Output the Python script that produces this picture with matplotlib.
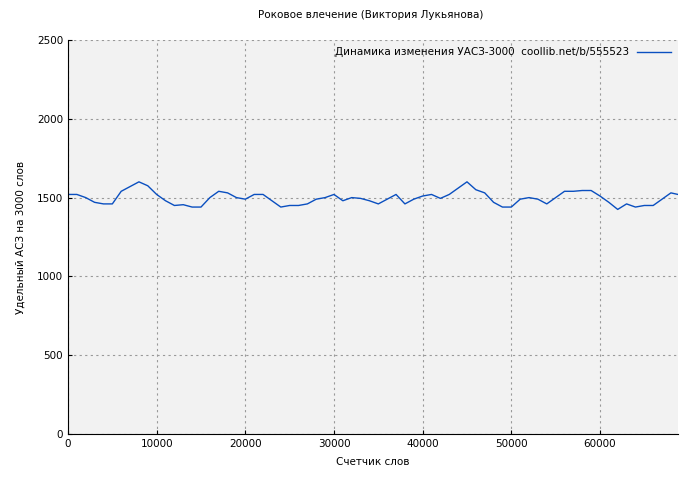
import matplotlib
matplotlib.use("Agg")
import matplotlib.pyplot as plt

y = [1520,1520,1500,1470,1460,1460,1540,1570,1600,1575,
     1520,1480,1450,1455,1440,1440,1500,1540,1530,1500,
     1490,1520,1520,1480,1440,1450,1450,1460,1490,1500,
     1520,1480,1500,1495,1480,1460,1490,1520,1460,1490,
     1510,1520,1495,1520,1560,1600,1550,1530,1470,1440,
     1440,1490,1500,1490,1460,1500,1540,1540,1545,1545,
     1510,1470,1425,1460,1440,1450,1450,1490,1530,1520]
x = list(range(0, 69000, 1000))[:len(y) - 1] + [68800]

fig = plt.figure(figsize=(7, 4.8), dpi=100, facecolor="white")
ax = fig.add_axes([68/700, 1-434/480, 610/700, 394/480])
ax.set_facecolor("#f2f2f2")
ax.plot(x, y, color="#0a4fc0", lw=1, label="Динамика изменения УАСЗ-3000  coollib.net/b/555523")
ax.set_xlim(0, 68800)
ax.set_ylim(0, 2500)
ax.set_xticks(range(0, 68800, 10000))
ax.set_yticks(range(0, 2501, 500))
ax.grid(True, color="#999999", ls=(0, (2, 3)), lw=0.8)
for s in ["top", "right"]:
    ax.spines[s].set_visible(False)
ax.tick_params(labelsize=7.5, direction="in", length=3)
ax.set_xlabel("Счетчик слов", fontsize=7.5, labelpad=6)
ax.set_ylabel("Удельный АСЗ на 3000 слов", fontsize=7.5, labelpad=8)
fig.text(0.53, 0.963, "Роковое влечение (Виктория Лукьянова)", ha="center", fontsize=7.5)
ax.legend(loc="upper right", frameon=False, fontsize=7.5, handlelength=3.2, markerfirst=False,
          borderaxespad=0.3)
fig.savefig("out.png", dpi=100)
